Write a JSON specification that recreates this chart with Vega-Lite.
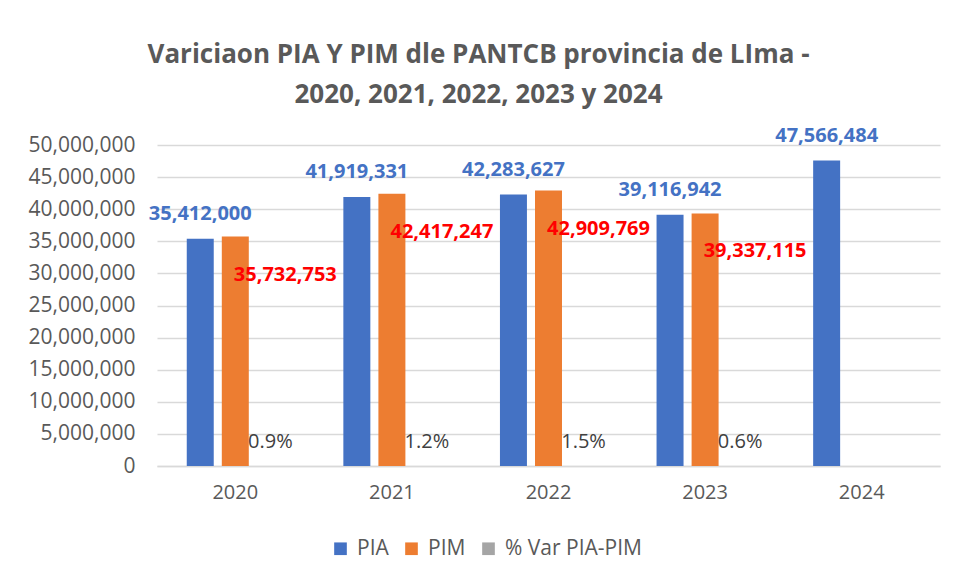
{
  "$schema": "https://vega.github.io/schema/vega-lite/v6.json",
  "width": 783,
  "height": 321,
  "autosize": {"type": "none"},
  "padding": {"left": 157, "top": 145, "right": 15, "bottom": 117},
  "background": "white",
  "config": {
    "font": "Open Sans",
    "view": {"stroke": null}
  },
  "title": {
    "text": ["Variciaon PIA Y PIM dle PANTCB provincia de LIma -", "2020, 2021, 2022, 2023 y 2024"],
    "fontSize": 26,
    "fontWeight": "bold",
    "color": "#595959",
    "font": "Open Sans",
    "lineHeight": 40,
    "anchor": "middle",
    "dx": -70,
    "offset": 18
  },
  "data": {
    "values": [
      {"year": "2020", "series": "PIA", "value": 35412000},
      {"year": "2020", "series": "PIM", "value": 35732753},
      {"year": "2020", "series": "% Var PIA-PIM", "value": 0.009},
      {"year": "2021", "series": "PIA", "value": 41919331},
      {"year": "2021", "series": "PIM", "value": 42417247},
      {"year": "2021", "series": "% Var PIA-PIM", "value": 0.012},
      {"year": "2022", "series": "PIA", "value": 42283627},
      {"year": "2022", "series": "PIM", "value": 42909769},
      {"year": "2022", "series": "% Var PIA-PIM", "value": 0.015},
      {"year": "2023", "series": "PIA", "value": 39116942},
      {"year": "2023", "series": "PIM", "value": 39337115},
      {"year": "2023", "series": "% Var PIA-PIM", "value": 0.006},
      {"year": "2024", "series": "PIA", "value": 47566484}
    ]
  },
  "encoding": {
    "x": {
      "field": "year",
      "type": "nominal",
      "scale": {"paddingInner": 0.38, "paddingOuter": 0.19},
      "axis": {
        "title": null,
        "labelAngle": 0,
        "labelFontSize": 20,
        "labelColor": "#595959",
        "labelPadding": 16,
        "ticks": false,
        "domainColor": "#D9D9D9",
        "domainWidth": 1.5
      }
    },
    "xOffset": {
      "field": "series",
      "type": "nominal",
      "sort": ["PIA", "PIM", "% Var PIA-PIM"],
      "scale": {"paddingInner": 0.23, "paddingOuter": 0}
    },
    "y": {
      "field": "value",
      "type": "quantitative",
      "scale": {"domain": [0, 50000000], "nice": false},
      "axis": {
        "title": null,
        "values": [0, 5000000, 10000000, 15000000, 20000000, 25000000, 30000000, 35000000, 40000000, 45000000, 50000000],
        "format": ",d",
        "labelFontSize": 21,
        "labelColor": "#595959",
        "labelPadding": 22,
        "ticks": false,
        "domain": false,
        "gridColor": "#D9D9D9",
        "gridWidth": 1.5
      }
    }
  },
  "layer": [
    {
      "mark": {"type": "bar"},
      "encoding": {
        "color": {
          "field": "series",
          "type": "nominal",
          "sort": ["PIA", "PIM", "% Var PIA-PIM"],
          "scale": {"domain": ["PIA", "PIM", "% Var PIA-PIM"], "range": ["#4472C4", "#ED7D31", "#A5A5A5"]},
          "legend": {
            "title": null,
            "orient": "none",
            "direction": "horizontal",
            "legendX": 173,
            "legendY": 393,
            "symbolType": "square",
            "symbolSize": 160,
            "symbolStrokeWidth": 0,
            "labelFontSize": 21,
            "labelColor": "#595959",
            "columnPadding": 12,
            "labelOffset": 6
          }
        }
      }
    },
    {
      "transform": [{"filter": "datum.series === 'PIA'"}],
      "mark": {"type": "text", "fontSize": 20, "fontWeight": "bold", "color": "#4472C4", "baseline": "middle", "dy": -25},
      "encoding": {"text": {"field": "value", "type": "quantitative", "format": ",d"}}
    },
    {
      "transform": [{"filter": "datum.series === 'PIM'"}],
      "mark": {"type": "text", "fontSize": 20, "fontWeight": "bold", "color": "#FF0000", "baseline": "middle", "dy": 38, "dx": 50},
      "encoding": {"text": {"field": "value", "type": "quantitative", "format": ",d"}}
    },
    {
      "transform": [{"filter": "datum.series === '% Var PIA-PIM'"}],
      "mark": {"type": "text", "fontSize": 20, "color": "#404040", "baseline": "middle", "dy": -24},
      "encoding": {"text": {"field": "value", "type": "quantitative", "format": ".1%"}}
    }
  ]
}
